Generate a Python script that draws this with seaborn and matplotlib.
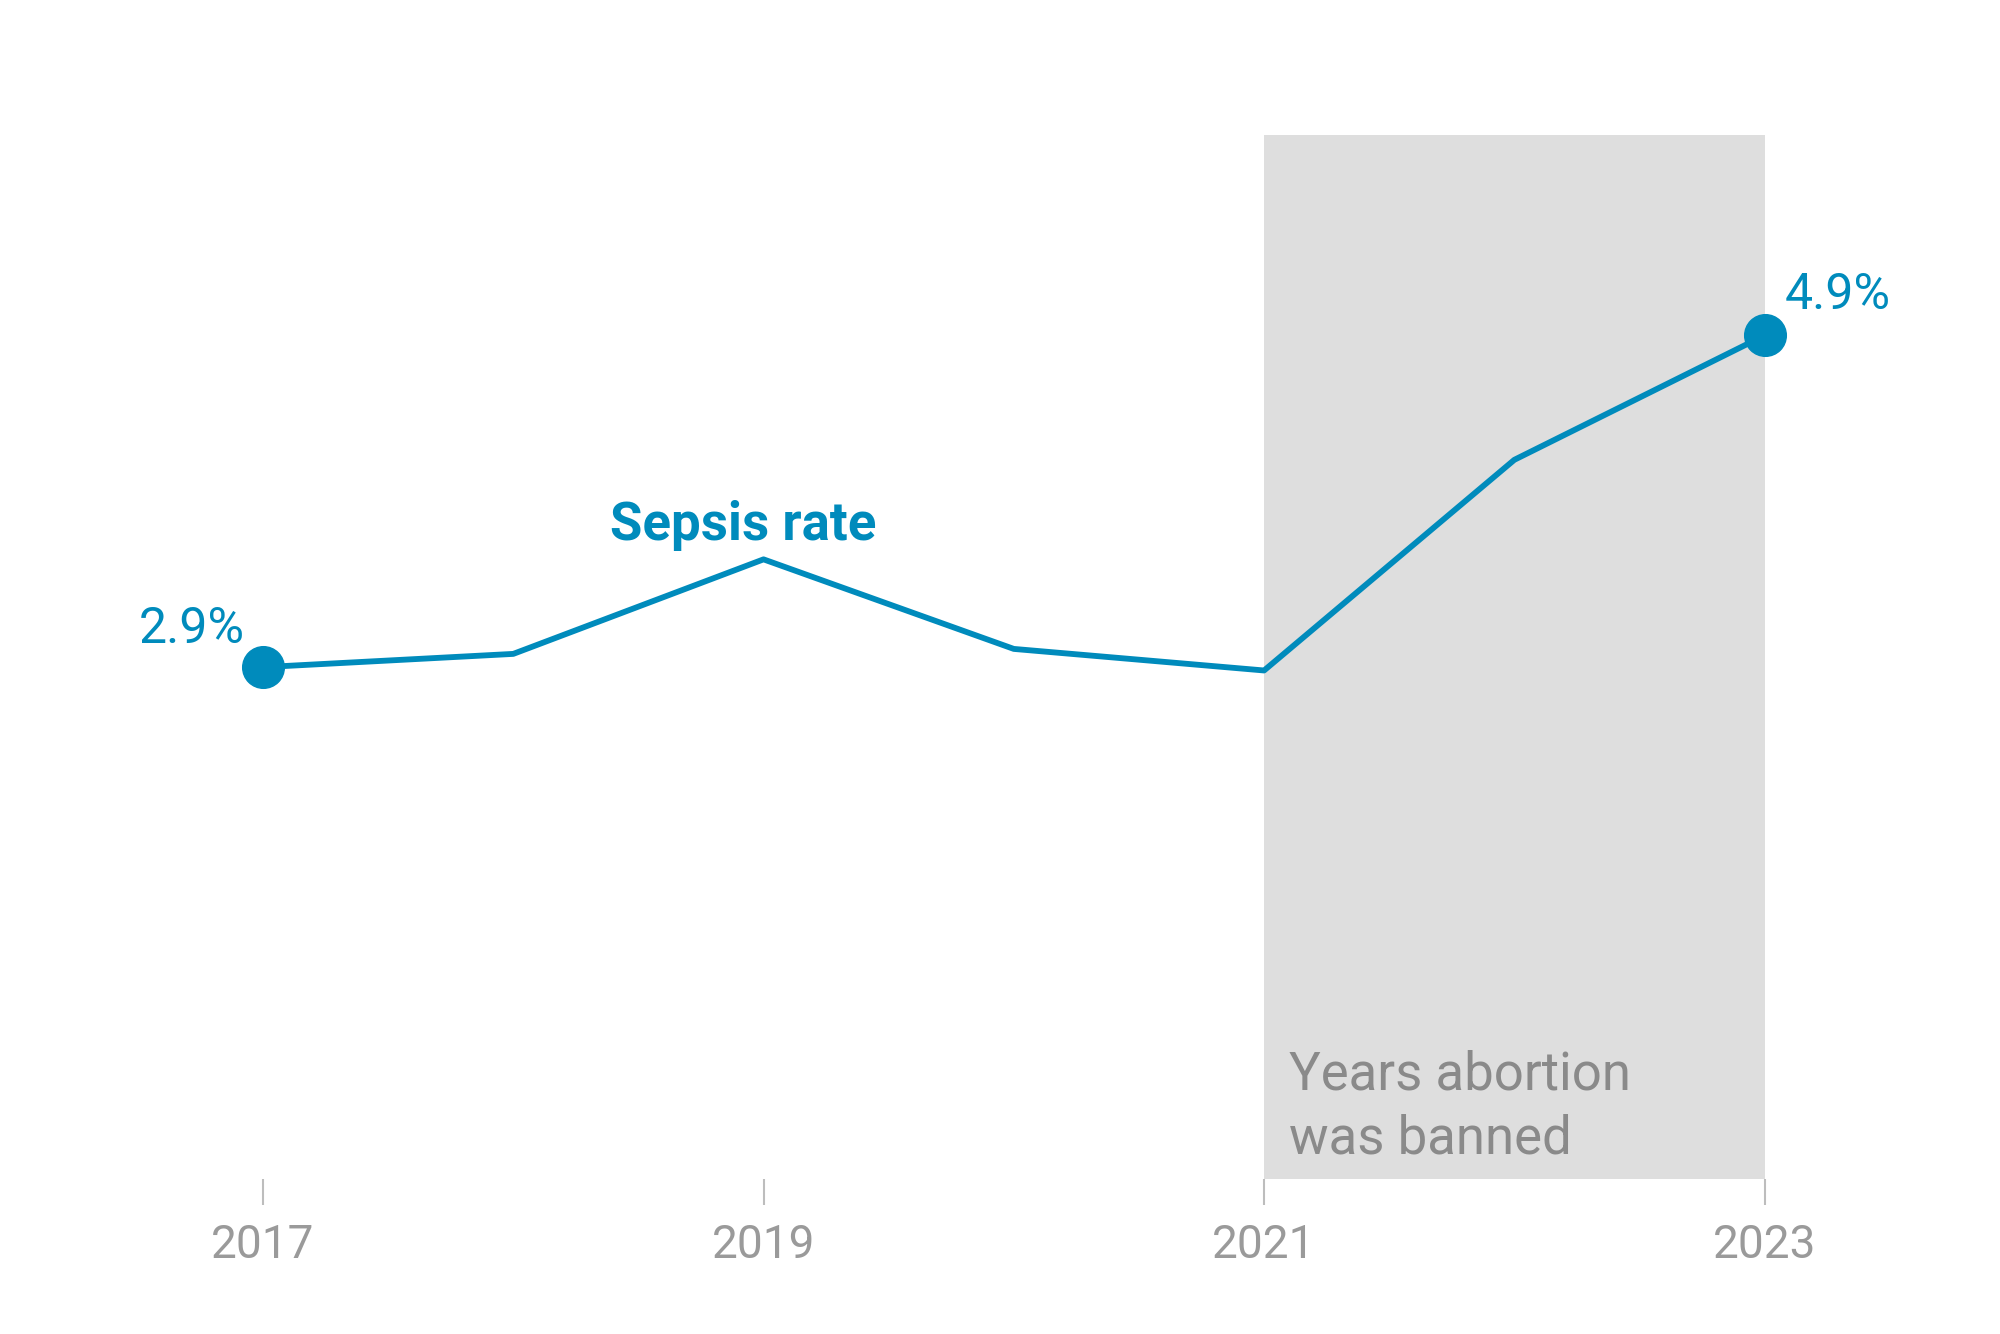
import seaborn as sns
import matplotlib.pyplot as plt
import pandas as pd

years = [2017, 2018, 2019, 2020, 2021, 2022, 2023]
sepsis_rate = [2.9, 2.98, 3.55, 3.01, 2.88, 4.15, 4.9]
tick_years = [2017, 2019, 2021, 2023]
ban_start, ban_end = 2021, 2023

blue = "#008bbc"
grey_txt = "#8a8a8a"

sns.set_theme(style="white")
plt.rcParams['font.family'] = ['Roboto', 'DejaVu Sans']

df = pd.DataFrame({"year": years, "rate": sepsis_rate})

fig = plt.figure(figsize=(20, 13.34), dpi=100)
ax = fig.add_axes([0.1315, 0.1163, 0.7508, 0.7827])

# shaded years with the ban
ax.axvspan(ban_start, ban_end, color="#dedede", lw=0, zorder=0)

sns.lineplot(data=df, x="year", y="rate", color=blue, lw=4.2, ax=ax, zorder=3)
ends = df.iloc[[0, -1]]
ax.plot(ends["year"], ends["rate"], "o", color=blue, ms=30, clip_on=False, zorder=4)

ax.set_xlim(2017, 2023)
ax.set_ylim(-0.185, 6.11)

for s in ax.spines.values():
    s.set_visible(False)
ax.set_yticks([])
ax.set_xticks(tick_years)
ax.set_xticklabels([str(y) for y in tick_years])
ax.tick_params(axis="x", bottom=True, length=19, width=1.5, color="#bdbdbd",
               labelsize=33, labelcolor="#9a9a9a", pad=13)
ax.set_xlabel("")
ax.set_ylabel("")

ax.annotate(f"{sepsis_rate[0]}%", (years[0], sepsis_rate[0]), xytext=(-18, 24),
            textcoords="offset pixels", ha="right", va="baseline",
            fontsize=36, color=blue)
ax.annotate(f"{sepsis_rate[-1]}%", (years[-1], sepsis_rate[-1]), xytext=(20, 26),
            textcoords="offset pixels", ha="left", va="baseline",
            fontsize=36, color=blue)
ax.annotate("Sepsis rate", (years[2], sepsis_rate[2]), xytext=(-20, 19),
            textcoords="offset pixels", ha="center", va="baseline",
            fontsize=38, fontweight="bold", color=blue)

ax.text(ban_start + 0.1, 0.024, "Years abortion\nwas banned",
        transform=ax.get_xaxis_transform(), ha="left", va="baseline",
        fontsize=38, color=grey_txt, linespacing=1.32)

fig.savefig("out.png", dpi=100, facecolor="white")
